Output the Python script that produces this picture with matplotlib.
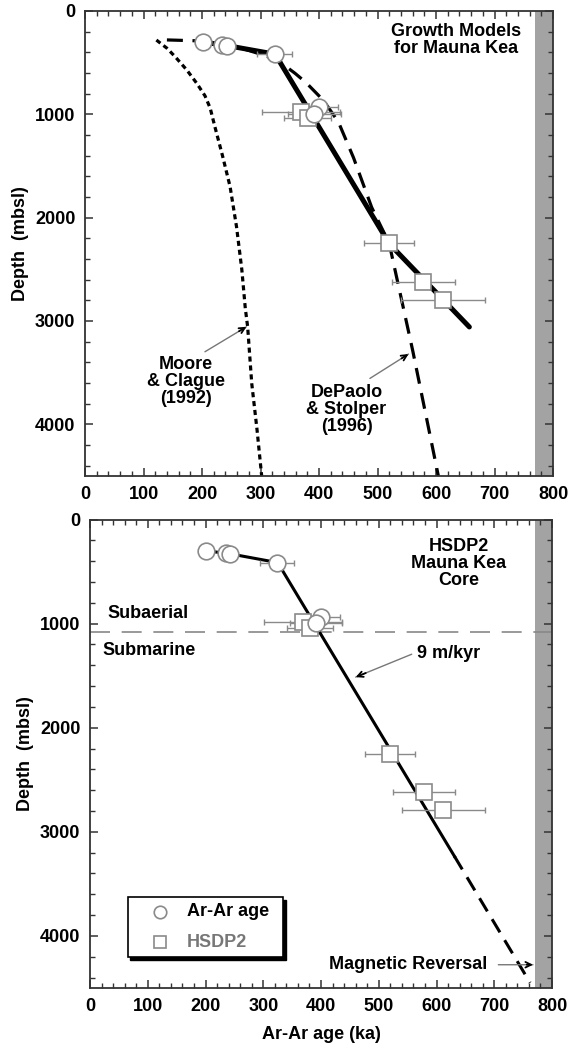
import matplotlib
matplotlib.use('Agg')
import matplotlib.pyplot as plt
from matplotlib.ticker import MultipleLocator

plt.rcParams['font.family'] = ['Liberation Sans', 'DejaVu Sans']
plt.rcParams['font.weight'] = 'bold'

# Ar-Ar ages (circles)
arar_age = [201, 235, 243, 324, 400, 392]
arar_depth = [303, 326, 335, 416, 932, 993]
arar_err = [0, 0, 0, 30, 32, 45]

# HSDP2 ages (squares)
hsdp_age = [369, 381, 520, 578, 612]
hsdp_depth = [980, 1038, 2248, 2618, 2795]
hsdp_err = [67, 40, 43, 54, 72]

# growth models (top panel)
fit_age = [201, 243, 325, 520, 657]
fit_depth = [300, 335, 418, 2252, 3058]
moore_age = [122, 140, 154, 174, 191, 205, 214, 222, 235, 248, 259, 268, 274, 278, 285, 294, 302]
moore_depth = [281, 360, 442, 571, 700, 820, 940, 1120, 1400, 1700, 2088, 2500, 2878, 3056, 3604, 4050, 4500]
depaolo_age = [140, 200, 250, 305, 330, 359, 378, 407, 433, 459, 490, 520, 560, 604]
depaolo_depth = [280, 290, 330, 426, 480, 603, 694, 862, 1072, 1420, 1900, 2250, 3282, 4500]

# 9 m/kyr line (bottom panel)
line_age = [201, 243, 325, 631]
line_depth = [300, 330, 414, 3235]
ext_age = [631, 762]
ext_depth = [3235, 4450]

reversal = (770, 800)
shore_depth = 1084

GRAY = '#8a8a8a'
FS = 13


def arrow(ax, xy, xytext):
    ax.annotate('', xy=xy, xytext=xytext,
                arrowprops=dict(arrowstyle='-', color='#777777', lw=1.0,
                                shrinkA=0, shrinkB=0))
    fx = xytext[0] + 0.82 * (xy[0] - xytext[0])
    fy = xytext[1] + 0.82 * (xy[1] - xytext[1])
    ax.annotate('', xy=xy, xytext=(fx, fy),
                arrowprops=dict(arrowstyle='->', color='black', lw=1.3,
                                shrinkA=0, shrinkB=0, mutation_scale=10))


def style(ax):
    ax.set_xlim(0, 800)
    ax.set_ylim(4500, 0)
    ax.axvspan(reversal[0], reversal[1], color='#a3a3a3', zorder=0, lw=0)
    ax.xaxis.set_major_locator(MultipleLocator(100))
    ax.xaxis.set_minor_locator(MultipleLocator(20))
    ax.yaxis.set_major_locator(MultipleLocator(1000))
    ax.yaxis.set_minor_locator(MultipleLocator(200))
    ax.tick_params(which='both', direction='in', top=True, right=True,
                   labelsize=13, color='#333333', pad=7)
    ax.tick_params(which='major', length=6, width=1.1)
    ax.tick_params(which='minor', length=3.5, width=1.0)
    for s in ax.spines.values():
        s.set_linewidth(1.3)
        s.set_color('#333333')
    for lab in ax.get_xticklabels() + ax.get_yticklabels():
        lab.set_fontweight('bold')
    ax.set_ylabel('Depth  (mbsl)', fontsize=13, fontweight='bold', labelpad=4)


def points(ax, ms_c=12, ms_s=11.5):
    ax.errorbar(arar_age, arar_depth, xerr=arar_err, fmt='none', ecolor=GRAY,
                elinewidth=1, capsize=2, capthick=1, zorder=3)
    ax.errorbar(hsdp_age, hsdp_depth, xerr=hsdp_err, fmt='none', ecolor=GRAY,
                elinewidth=1, capsize=2, capthick=1, zorder=3)
    ax.plot(hsdp_age, hsdp_depth, 's', ms=ms_s, mfc='white', mec=GRAY, mew=1.2, zorder=4)
    ax.plot(arar_age, arar_depth, 'o', ms=ms_c, mfc='white', mec=GRAY, mew=1.2, zorder=5)


fig = plt.figure(figsize=(5.69, 10.47), dpi=100)
ax1 = fig.add_axes([0.1494, 0.5454, 0.8225, 0.4441])
ax2 = fig.add_axes([0.1582, 0.0564, 0.812, 0.4474])

# top: growth models
style(ax1)
ax1.plot(moore_age, moore_depth, color='black', lw=2.3, dashes=(1.6, 1.2), zorder=2)
ax1.plot(depaolo_age, depaolo_depth, color='black', lw=2.3, dashes=(5, 3), zorder=2)
ax1.plot(fit_age, fit_depth, color='black', lw=3.6, solid_capstyle='round', zorder=2)
points(ax1)
ax1.text(635, 280, 'Growth Models\nfor Mauna Kea', ha='center', va='center',
         fontsize=FS, fontweight='bold', linespacing=0.95)
ax1.text(173, 3590, 'Moore\n& Clague\n(1992)', ha='center', va='center',
         fontsize=FS, fontweight='bold', linespacing=1.0)
ax1.text(447, 3860, 'DePaolo\n& Stolper\n(1996)', ha='center', va='center',
         fontsize=FS, fontweight='bold', linespacing=1.0)
arrow(ax1, (276, 3056), (205, 3298))
arrow(ax1, (553, 3320), (487, 3556))

# bottom: HSDP2 core
style(ax2)
ax2.axhline(shore_depth, color='#888888', lw=1.2, dashes=(12, 7), zorder=1)
ax2.plot(line_age, line_depth, color='black', lw=2.2, zorder=2)
ax2.plot(ext_age, ext_depth, color='black', lw=2.2, dashes=(5, 3), zorder=2)
points(ax2)
ax2.text(638, 420, 'HSDP2\nMauna Kea\nCore', ha='center', va='center',
         fontsize=FS, fontweight='bold', linespacing=1.0)
ax2.text(31, 899, 'Subaerial', ha='left', va='center', fontsize=FS, fontweight='bold')
ax2.text(22, 1255, 'Submarine', ha='left', va='center', fontsize=FS, fontweight='bold')
ax2.text(566, 1284, '9 m/kyr', ha='left', va='center', fontsize=FS, fontweight='bold')
arrow(ax2, (460, 1514), (557, 1294))
ax2.text(550, 4270, 'Magnetic Reversal', ha='center', va='center',
         fontsize=FS, fontweight='bold')
arrow(ax2, (767, 4277), (707, 4277))
ax2.set_xlabel('Ar-Ar age (ka)', fontsize=13, fontweight='bold', labelpad=8)

# legend box with drop shadow
ax2.fill([70, 339, 339, 70], [3653, 3653, 4236, 4236], color='black', zorder=6)
ax2.fill([65, 334, 334, 65], [3623, 3623, 4206, 4206], facecolor='white',
         edgecolor='black', lw=1.2, zorder=7)
ax2.plot([121], [3769], 'o', ms=9, mfc='white', mec=GRAY, mew=1.2, zorder=8)
ax2.plot([121], [4060], 's', ms=8.5, mfc='white', mec=GRAY, mew=1.2, zorder=8)
ax2.text(168, 3769, 'Ar-Ar age', ha='left', va='center', fontsize=FS,
         fontweight='bold', zorder=8)
ax2.text(168, 4060, 'HSDP2', ha='left', va='center', fontsize=FS,
         fontweight='bold', color='#777777', zorder=8)

fig.savefig('out.png', dpi=100)
